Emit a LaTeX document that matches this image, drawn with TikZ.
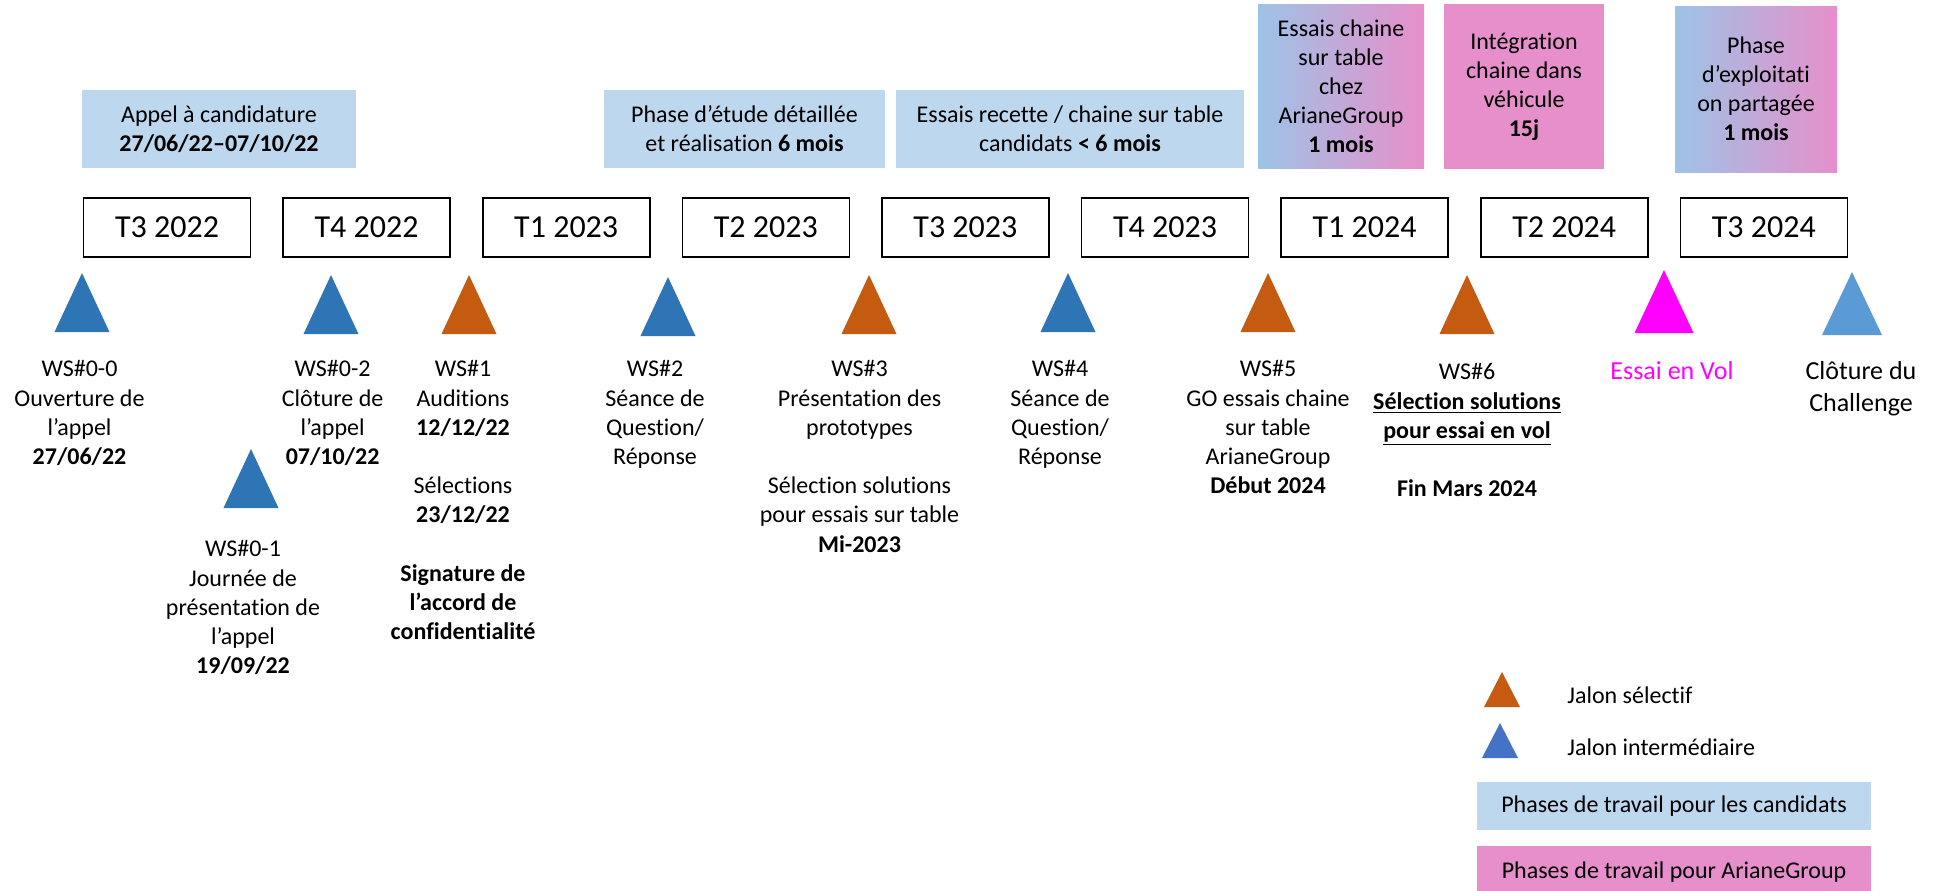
\documentclass[tikz,border=0pt]{standalone}
\usepackage{fontspec}
\setmainfont{Carlito}[Ligatures=NoCommon]
\definecolor{candblue}{RGB}{189,215,238}
\definecolor{agpink}{RGB}{231,143,202}
\definecolor{mixblue}{RGB}{157,195,230}
\definecolor{tblue}{RGB}{46,117,182}
\definecolor{torange}{RGB}{197,90,17}
\definecolor{tmagenta}{RGB}{255,0,255}
\definecolor{tlight}{RGB}{91,155,213}
\definecolor{legblue}{RGB}{68,114,196}
\newcommand\jalon[5]{\fill[#1] (#2,#3) -- (#2+#5/2,#4) -- (#2-#5/2,#4) -- cycle;}
\begin{document}
\begin{tikzpicture}[x=0.5pt,y=-0.5pt,
  qbox/.style={draw=black,line width=0.8pt,minimum width=83.5pt,minimum height=29.5pt,inner sep=0pt,font=\fontsize{16}{19}\selectfont},
  phase/.style={inner sep=0pt,align=center,font=\fontsize{12}{14.5}\selectfont},
  cand/.style={phase,fill=candblue},
  agbox/.style={phase,fill=agpink},
  mixbox/.style={phase,left color=mixblue,right color=agpink},
  ms/.style={anchor=north,align=center,inner sep=0pt,font=\fontsize{12}{14.6}\selectfont},
  msbig/.style={anchor=north,align=center,inner sep=0pt,font=\fontsize{13}{16}\selectfont},
  leg/.style={anchor=west,inner sep=0pt,font=\fontsize{12}{14.5}\selectfont}
]
\useasboundingbox (0,0) rectangle (1944,890);

% phase boxes
\node[cand,minimum width=137pt,minimum height=39pt] (appel) at (219,129) {Appel à candidature\\\textbf{27/06/22–07/10/22}};
\node[cand,minimum width=140.5pt,minimum height=39pt] (etude) at (744.5,129) {Phase d’étude détaillée\\et réalisation \textbf{6 mois}};
\node[cand,minimum width=174pt,minimum height=39pt] (recette) at (1070,129) {Essais recette / chaine sur table\\candidats \textbf{< 6 mois}};
\node[mixbox,minimum width=83pt,minimum height=82pt] (chaine) at (1341,86) {Essais chaine\\sur table\\chez\\ArianeGroup\\\textbf{1 mois}};
\node[agbox,minimum width=80pt,minimum height=82.5pt] (integ) at (1524,86.5) {Intégration\\chaine dans\\véhicule\\\textbf{15j}};
\node[mixbox,minimum width=81pt,minimum height=83pt] (exploit) at (1756,89) {Phase\\d’exploitati\\on partagée\\\textbf{1 mois}};

% quarters
\node[qbox] (q1) at (167,227.5) {T3 2022};
\node[qbox] (q2) at (366.6,227.5) {T4 2022};
\node[qbox] (q3) at (566.2,227.5) {T1 2023};
\node[qbox] (q4) at (765.8,227.5) {T2 2023};
\node[qbox] (q5) at (965.4,227.5) {T3 2023};
\node[qbox] (q6) at (1165,227.5) {T4 2023};
\node[qbox] (q7) at (1364.6,227.5) {T1 2024};
\node[qbox] (q8) at (1564.2,227.5) {T2 2024};
\node[qbox] (q9) at (1763.8,227.5) {T3 2024};

% milestone triangles
\jalon{tblue}{82}{273}{332}{55}
\jalon{tblue}{251}{449}{508}{55}
\jalon{tblue}{331}{275}{334}{55}
\jalon{torange}{469}{275}{334}{55}
\jalon{tblue}{668}{277}{336}{55}
\jalon{torange}{869}{275}{334}{55}
\jalon{tblue}{1068}{273}{332}{55}
\jalon{torange}{1268}{273}{332}{55}
\jalon{torange}{1467}{275}{334}{55}
\jalon{tmagenta}{1664}{270}{333}{59}
\jalon{tlight}{1852}{272}{335}{60}

% milestone texts
\node[ms] (ws00) at (79.5,356) {\strut WS\#0-0\\Ouverture de\\l’appel\\\textbf{27/06/22}};
\node[ms] (ws01) at (243,536) {\strut WS\#0-1\\Journée de\\présentation de\\l’appel\\\textbf{19/09/22}};
\node[ms] (ws02) at (332.6,356) {\strut WS\#0-2\\Clôture de\\l’appel\\\textbf{07/10/22}};
\node[ms] (ws1) at (463,356) {\strut WS\#1\\Auditions\\\textbf{12/12/22}\\[14.6pt]Sélections\\\textbf{23/12/22}\\[14.6pt]\textbf{Signature de}\\\textbf{l’accord de}\\\textbf{confidentialité}};
\node[ms] (ws2) at (655,356) {\strut WS\#2\\Séance de\\Question/\\Réponse};
\node[ms] (ws3) at (859.5,356) {\strut WS\#3\\Présentation des\\prototypes\\[14.6pt]Sélection solutions\\pour essais sur table\\\textbf{Mi-2023}};
\node[ms] (ws4) at (1060,356) {\strut WS\#4\\Séance de\\Question/\\Réponse};
\node[ms] (ws5) at (1268,356) {\strut WS\#5\\GO essais chaine\\sur table\\ArianeGroup\\\textbf{Début 2024}};
\node[ms] (ws6) at (1467,359) {\strut WS\#6\\\underline{\textbf{Sélection solutions}}\\\underline{\textbf{pour essai en vol}}\\[14.6pt]\textbf{Fin Mars 2024}};
\node[msbig,text=tmagenta] (vol) at (1672,357) {\strut Essai en Vol};
\node[msbig] (clot) at (1861,357) {\strut Clôture du\\Challenge};

% legend
\jalon{torange}{1502}{672}{707}{36}
\jalon{legblue}{1500}{723}{758}{36}
\node[leg] (lsel) at (1567,695) {Jalon sélectif};
\node[leg] (linter) at (1567,747) {Jalon intermédiaire};
\node[cand,minimum width=197pt,minimum height=24pt] (lcand) at (1674,806) {Phases de travail pour les candidats};
\node[agbox,minimum width=197pt,minimum height=26pt] (lag) at (1674,872) {Phases de travail pour ArianeGroup};
\end{tikzpicture}
\end{document}
